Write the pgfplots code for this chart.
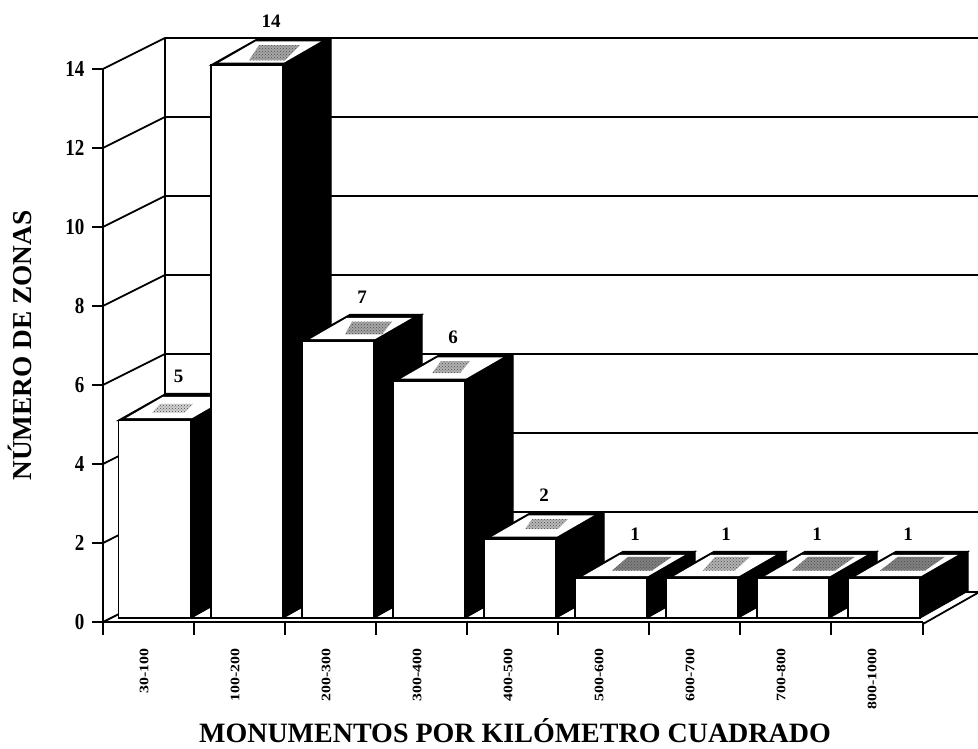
\documentclass[border=0pt]{standalone}
\usepackage{fontspec}
\setmainfont{Liberation Serif}
\usepackage{pgfplots}
\usepackage{pgfplotstable}
\pgfplotsset{compat=1.18}
\usetikzlibrary{patterns}
\pgfplotstableread{
x v
154.5 5
247 14
338 7
429 6
520 2
611 1
702 1
793 1
884 1
}\bars
\begin{document}
\begin{tikzpicture}[x=1pt,y=1pt]
\path[use as bounding box,fill=white] (0,0) rectangle (978,749);
\begin{axis}[
  at={(103pt,127pt)},anchor=south west,
  scale only axis,width=820pt,height=553pt,
  xmin=103,xmax=923,ymin=0,ymax=14,clip=false,
  axis lines=left,axis line style={-,line width=1.8pt},
  ytick={0,2,...,14},
  xtick={156,247,338,429,520,611,702,793,884},
  xticklabels={30-100,100-200,200-300,300-400,400-500,500-600,600-700,700-800,800-1000},
  minor xtick={103,194,285,376,467,558,649,740,831,923},
  major tick length=11pt,minor tick length=13pt,tick align=outside,
  every major x tick/.style={draw=none},
  every minor x tick/.style={draw=black,line width=1.8pt},
  every major y tick/.style={draw=black,line width=1.8pt},
  xticklabel style={rotate=90,anchor=east,font=\bfseries\fontsize{13}{13}\selectfont,xscale=1.22,xshift=-9pt,yshift=12pt},
  yticklabel style={font=\bfseries\fontsize{19}{19}\selectfont,yscale=1.2,xshift=-4pt},
  /pgf/number format/assume math mode=true,
  xlabel={MONUMENTOS POR KILÓMETRO CUADRADO},
  ylabel={NÚMERO DE ZONAS},
  every axis x label/.style={at={(axis cs:515,-2.74)},anchor=center,font=\bfseries\fontsize{28}{28}\selectfont},
  every axis y label/.style={at={(axis cs:20,7)},rotate=90,anchor=center,font=\bfseries\fontsize{27.3}{27.3}\selectfont},
  wall/.style={black,line width=1.8pt,no markers,forget plot},
  side/.style={fill=black,draw=black,line width=1.2pt,no markers,yshift=4pt,forget plot},
  topw/.style={fill=white,draw=none,no markers,yshift=4pt,forget plot},
  blob/.style={fill=black!#1,draw=none,no markers,yshift=4pt,forget plot,postaction={pattern=crosshatch dots,pattern color=black!70}},
]
% side wall
\addplot[wall] coordinates {(103,0)(165,0.785)};
\addplot[wall] coordinates {(103,2)(165,2.785)};
\addplot[wall] coordinates {(103,4)(165,4.785)};
\addplot[wall] coordinates {(103,6)(165,6.785)};
\addplot[wall] coordinates {(103,8)(165,8.785)};
\addplot[wall] coordinates {(103,10)(165,10.785)};
\addplot[wall] coordinates {(103,12)(165,12.785)};
\addplot[wall] coordinates {(103,14)(165,14.785)};
\addplot[wall] coordinates {(165,0.785)(165,14.785)};
% back wall
\addplot[wall] coordinates {(165,2.785)(978,2.785)};
\addplot[wall] coordinates {(165,4.785)(978,4.785)};
\addplot[wall] coordinates {(165,6.785)(978,6.785)};
\addplot[wall] coordinates {(165,8.785)(978,8.785)};
\addplot[wall] coordinates {(165,10.785)(978,10.785)};
\addplot[wall] coordinates {(165,12.785)(978,12.785)};
\addplot[wall] coordinates {(165,14.785)(978,14.785)};
% floor
\addplot[wall] coordinates {(923,-0.05)(978,0.74)};
\addplot[wall] coordinates {(960,0.76)(978,0.76)};
\addplot[wall,yshift=4pt] coordinates {(118,0)(920,0)};
% bar 1
\addplot[side] coordinates {(191,0)(191,5)(239,5.684)(239,0.684)} -- cycle;
\addplot[side] coordinates {(118,5)(166,5.684)(239,5.684)(191,5)} -- cycle;
\addplot[topw] coordinates {(126,5.06)(163,5.6)(229,5.6)(192,5.06)} -- cycle;
\addplot[blob=18] coordinates {(152,5.2)(160,5.42)(193,5.42)(185,5.2)} -- cycle;
% bar 2
\addplot[side] coordinates {(283,0)(283,14)(331,14.684)(331,0.684)} -- cycle;
\addplot[side] coordinates {(211,14)(259,14.684)(331,14.684)(283,14)} -- cycle;
\addplot[topw] coordinates {(219,14.06)(256,14.6)(321,14.6)(284,14.06)} -- cycle;
\addplot[blob=35] coordinates {(249,14.12)(259,14.5)(300,14.5)(285,14.12)} -- cycle;
% bar 3
\addplot[side] coordinates {(374,0)(374,7)(422,7.684)(422,0.684)} -- cycle;
\addplot[side] coordinates {(302,7)(350,7.684)(422,7.684)(374,7)} -- cycle;
\addplot[topw] coordinates {(310,7.06)(347,7.6)(412,7.6)(375,7.06)} -- cycle;
\addplot[blob=35] coordinates {(345,7.18)(352,7.5)(392,7.5)(382,7.18)} -- cycle;
% bar 4
\addplot[side] coordinates {(465,0)(465,6)(513,6.684)(513,0.684)} -- cycle;
\addplot[side] coordinates {(393,6)(441,6.684)(513,6.684)(465,6)} -- cycle;
\addplot[topw] coordinates {(401,6.06)(438,6.6)(503,6.6)(466,6.06)} -- cycle;
\addplot[blob=30] coordinates {(432,6.2)(441,6.5)(470,6.5)(460,6.2)} -- cycle;
% bar 5
\addplot[side] coordinates {(556,0)(556,2)(604,2.684)(604,0.684)} -- cycle;
\addplot[side] coordinates {(484,2)(532,2.684)(604,2.684)(556,2)} -- cycle;
\addplot[topw] coordinates {(492,2.06)(529,2.6)(594,2.6)(557,2.06)} -- cycle;
\addplot[blob=28] coordinates {(525,2.25)(532,2.5)(568,2.5)(558,2.25)} -- cycle;
% bar 6
\addplot[side] coordinates {(647,0)(647,1)(695,1.684)(695,0.684)} -- cycle;
\addplot[side] coordinates {(575,1)(623,1.684)(695,1.684)(647,1)} -- cycle;
\addplot[topw] coordinates {(583,1.06)(620,1.6)(685,1.6)(648,1.06)} -- cycle;
\addplot[blob=50] coordinates {(612,1.2)(628,1.55)(672,1.55)(652,1.2)} -- cycle;
% bar 7
\addplot[side] coordinates {(738,0)(738,1)(786,1.684)(786,0.684)} -- cycle;
\addplot[side] coordinates {(666,1)(714,1.684)(786,1.684)(738,1)} -- cycle;
\addplot[topw] coordinates {(674,1.06)(711,1.6)(776,1.6)(739,1.06)} -- cycle;
\addplot[blob=30] coordinates {(703,1.2)(715,1.55)(750,1.55)(735,1.2)} -- cycle;
% bar 8
\addplot[side] coordinates {(829,0)(829,1)(877,1.684)(877,0.684)} -- cycle;
\addplot[side] coordinates {(757,1)(805,1.684)(877,1.684)(829,1)} -- cycle;
\addplot[topw] coordinates {(765,1.06)(802,1.6)(867,1.6)(830,1.06)} -- cycle;
\addplot[blob=45] coordinates {(792,1.2)(808,1.55)(855,1.55)(835,1.2)} -- cycle;
% bar 9
\addplot[side] coordinates {(920,0)(920,1)(968,1.684)(968,0.684)} -- cycle;
\addplot[side] coordinates {(848,1)(896,1.684)(968,1.684)(920,1)} -- cycle;
\addplot[topw] coordinates {(856,1.06)(893,1.6)(958,1.6)(921,1.06)} -- cycle;
\addplot[blob=50] coordinates {(880,1.2)(898,1.55)(945,1.55)(925,1.2)} -- cycle;
% front faces
\addplot[ybar,bar width=72,bar shift=0pt,fill=white,draw=black,line width=1.6pt,yshift=4pt,
  nodes near coords,
  every node near coord/.style={anchor=center,xshift=24pt,yshift=44pt,text=black,font=\bfseries\fontsize{19}{19}\selectfont,/pgf/number format/assume math mode=true}]
  table[x=x,y=v] {\bars};
\end{axis}
\end{tikzpicture}
\end{document}
